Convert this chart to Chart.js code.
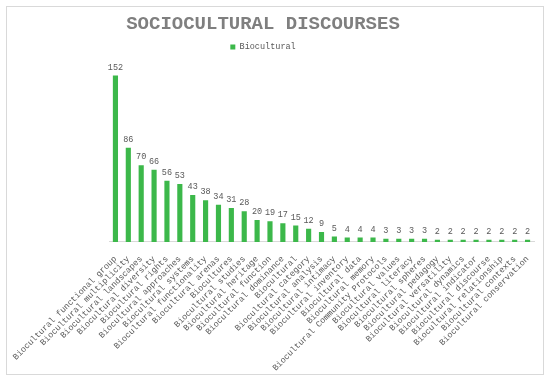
<!DOCTYPE html>
<html>
<head>
<meta charset="utf-8">
<script src="https://cdn.jsdelivr.net/npm/chart.js@4.4.1/dist/chart.umd.min.js"></script>
<style>
    body { margin: 0; background: #fff; overflow: hidden; }
    #box {
        position: absolute; left: 6px; top: 6px;
        width: 536px; height: 367px;
        border: 1px solid #d9d9d9;
        background: #fff;
    }
    #discourseChart { position: absolute; left: -16px; top: 7px; }
</style>
</head>
<body>
<div id="box"></div>
<canvas id="discourseChart" width="556" height="370"></canvas>
<script>
// Sociocultural discourses - counts per term
const terms = [
    'Biocultural functional group', 'Biocultural multiplicity', 'Biocultural landscapes',
    'Biocultural diversity', 'Biocultural rights', 'Biocultural approaches',
    'Biocultural systems', 'Biocultural functionality', 'Biocultural arenas',
    'Biocultures', 'Biocultural studies', 'Biocultural heritage',
    'Biocultural function', 'Biocultural dominance', 'Biocultural',
    'Biocultural category', 'Biocultural analysis', 'Biocultural intimacy',
    'Biocultural inventory', 'Biocultural data', 'Biocultural memory',
    'Biocultural Community Protocols', 'Biocultural values', 'Biocultural literacy',
    'Biocultural spheres', 'Biocultural pedagogy', 'Biocultural versatility',
    'Biocultural dynamics', 'Biocultural indicator', 'Biocultural discourse',
    'Biocultural relationship', 'Biocultural contexts', 'Biocultural conservation'
];
const counts = [152, 86, 70, 66, 56, 53, 43, 38, 34, 31, 28, 20, 19, 17, 15, 12, 9,
    5, 4, 4, 4, 3, 3, 3, 3, 2, 2, 2, 2, 2, 2, 2, 2];

const monoFont = "'Liberation Mono', 'Courier New', monospace";

// draws the number above each bar
const valueLabels = {
    id: 'valueLabels',
    afterDatasetsDraw(chart) {
        const ctx = chart.ctx;
        const meta = chart.getDatasetMeta(0);
        ctx.save();
        ctx.font = '8.5px ' + monoFont;
        ctx.fillStyle = '#595959';
        ctx.textAlign = 'center';
        ctx.textBaseline = 'bottom';
        meta.data.forEach((bar, i) => {
            ctx.fillText(counts[i], bar.x, bar.y - 4);
        });
        ctx.restore();
    }
};

const ctx = document.getElementById('discourseChart').getContext('2d');
const chart = new Chart(ctx, {
    type: 'bar',
    data: {
        labels: terms,
        datasets: [{
            label: 'Biocultural',
            data: counts,
            backgroundColor: '#3cb84a',
            barPercentage: 0.8,
            categoryPercentage: 0.5
        }]
    },
    options: {
        responsive: false,
        animation: false,
        layout: { padding: { left: 8, right: 6, top: 4, bottom: 0 } },
        plugins: {
            title: {
                display: true,
                text: 'SOCIOCULTURAL DISCOURSES',
                color: '#7f7f7f',
                font: { family: monoFont, size: 19, weight: 'bold' },
                padding: { top: 2, bottom: 3 }
            },
            legend: {
                labels: {
                    boxWidth: 5,
                    boxHeight: 5,
                    padding: 4,
                    color: '#595959',
                    font: { family: monoFont, size: 8.5 }
                }
            },
            tooltip: { enabled: false }
        },
        scales: {
            x: {
                grid: { display: false },
                border: { display: true, color: '#d9d9d9' },
                ticks: {
                    autoSkip: false,
                    maxRotation: 45,
                    minRotation: 45,
                    padding: 4,
                    color: '#595959',
                    font: { family: monoFont, size: 8.5 }
                },
                // leave room on the left like the original plot area
                afterFit(scale) {
                    scale.paddingLeft = 125;
                }
            },
            y: {
                display: false,
                beginAtZero: true,
                max: 165
            }
        }
    },
    plugins: [valueLabels]
});
</script>
</body>
</html>
